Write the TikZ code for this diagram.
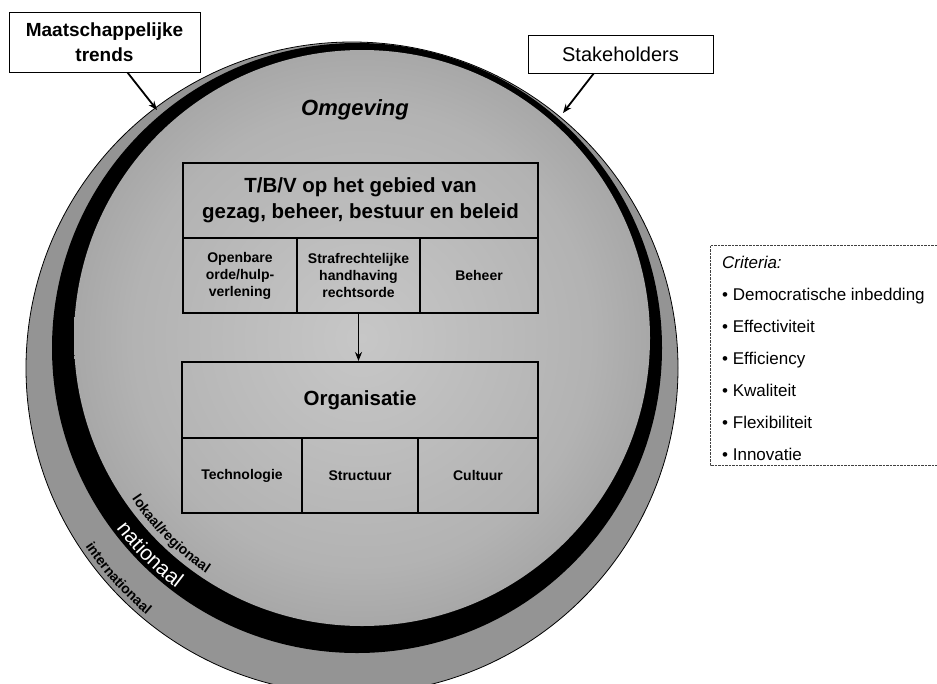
\documentclass[tikz,border=0pt]{standalone}
\usepackage{fontspec}
\setmainfont{Liberation Sans}
\usetikzlibrary{arrows.meta,decorations.text,calc}

\newcommand{\pxsize}[2]{\fontsize{#1}{#2}\selectfont}

% lighter centre, darker rim for the inner "Omgeving" disk
\pgfdeclareradialshading{diskshade}{\pgfpoint{0bp}{0bp}}{%
  color(0bp)=(black!22); color(20bp)=(black!30); color(40bp)=(black!47); color(50bp)=(black!58)}

\begin{document}
\begin{tikzpicture}[x=1pt,y=1pt,
  cell/.style={draw, line width=2pt, inner sep=0pt, align=center,
               font=\bfseries\pxsize{14}{17}},
  head/.style={cell, font=\bfseries\pxsize{20.5}{26}},
  callout/.style={draw, line width=1pt, inner sep=0pt, align=center, fill=white},
  pointer/.style={line width=1.8pt, -{Stealth[length=9pt,width=7pt]}},
  ringlabel/.style={decorate, decoration={text along path, text align=center}},
  critframe/.style={draw=black!75, line width=0.9pt, dash pattern=on 2.5pt off 1pt},
]
\useasboundingbox (0,0) rectangle (937,-683);

% ---- nested rings: internationaal / nationaal / omgeving ----
\coordinate (c0) at (352,-368);
\coordinate (c1) at (357,-348);
\coordinate (c2) at (362,-338);
\fill[black!42, draw=black, line width=0.8pt] (c0) circle[radius=326];
\fill[black] (c1) circle[radius=305];
\shade[shading=diskshade] (c2) circle[radius=288];

% ring labels along the lower-left arc
\path[ringlabel, decoration={text={|\bfseries\pxsize{14}{14}|lokaal/regionaal}}]
  ($(c1)+(200:271)$) arc[start angle=200, end angle=250, radius=271];
\path[ringlabel, decoration={text={|\color{white}\pxsize{21}{21}|nationaal}}]
  ($(c1)+(195:301)$) arc[start angle=195, end angle=255, radius=301];
\path[ringlabel, decoration={text={|\bfseries\pxsize{14}{14}|internationaal}}]
  ($(c0)+(192:321)$) arc[start angle=192, end angle=252, radius=321];

\node[font=\bfseries\itshape\pxsize{22}{22}] (omg) at (355,-110) {Omgeving};

% ---- tasks / powers / responsibilities block ----
\node[head, minimum width=355, minimum height=75] (tbv) at (360.5,-200.5)
  {T/B/V op het gebied van\\gezag, beheer, bestuur en beleid};
\node[cell, minimum width=114, minimum height=75] (ob) at (240,-275.5)
  {Openbare\\orde/hulp-\\verlening};
\node[cell, minimum width=123, minimum height=75] (sr) at (358.5,-275.5)
  {Strafrechtelijke\\handhaving\\rechtsorde};
\node[cell, minimum width=118, minimum height=75] (bh) at (479,-275.5) {Beheer};

% ---- organisation block ----
\node[head, minimum width=356, minimum height=76] (org) at (360,-400) {Organisatie};
\node[cell, minimum width=120, minimum height=75] (tech) at (242,-475.5) {Technologie};
\node[cell, minimum width=116, minimum height=75] (strc) at (360,-475.5) {Structuur};
\node[cell, minimum width=120, minimum height=75] (cult) at (478,-475.5) {Cultuur};

\draw[pointer] (sr.south) -- (sr.south |- org.north);

% ---- external influences ----
\node[callout, minimum width=191, minimum height=60, font=\bfseries\pxsize{19}{25}]
  (mt) at (104.5,-42) {Maatschappelijke\\trends};
\node[callout, minimum width=185, minimum height=38, font=\pxsize{20}{20}]
  (sh) at (620.5,-54) {Stakeholders};
\coordinate (mtip) at (157,-110);
\coordinate (stip) at (563,-113);
\draw[pointer] (mt.-53) -- (mtip);
\draw[pointer] (sh.216.7) -- (stip);

% ---- criteria list ----
\node[anchor=north west, align=left, inner sep=0pt, font=\pxsize{17}{32}] (crit)
  at (722,-256)
  {\textit{Criteria:}\\
   • Democratische inbedding\\
   • Effectiviteit\\
   • Efficiency\\
   • Kwaliteit\\
   • Flexibiliteit\\
   • Innovatie};
\coordinate (fr1) at (937,-245);
\coordinate (fr2) at (710,-245);
\coordinate (fr3) at (710,-465);
\coordinate (fr4) at (937,-465);
\draw[critframe] (fr1) -- (fr2) -- (fr3) -- (fr4);
\end{tikzpicture}
\end{document}
